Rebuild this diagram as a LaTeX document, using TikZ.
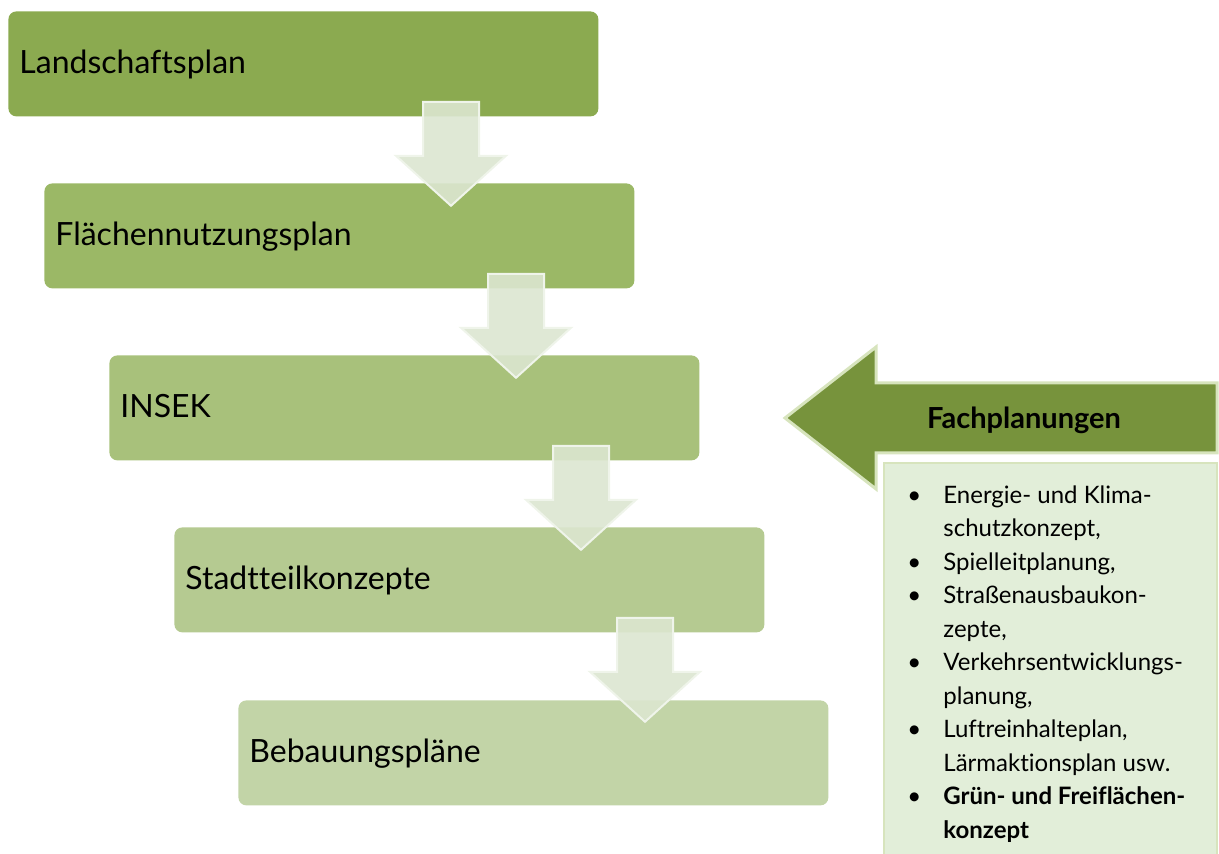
\documentclass[tikz,border=0pt]{standalone}
\usepackage{fontspec}
\setmainfont{Lato}[Ligatures={NoCommon}]
\usetikzlibrary{calc}
\definecolor{planA}{HTML}{8BAA50}
\definecolor{planB}{HTML}{9BB866}
\definecolor{planC}{HTML}{A8C17B}
\definecolor{planD}{HTML}{B5CA91}
\definecolor{planE}{HTML}{C2D4A7}
\definecolor{stepfill}{HTML}{DCE6D0}
\definecolor{fachfill}{HTML}{77933C}
\definecolor{fachline}{HTML}{D7E4BD}
\definecolor{listfill}{HTML}{E2EED9}
% arrow from box #1 down into box #2
\newcommand{\planArrow}[2]{%
  \draw[plan arrow] let \p1=(#1.south), \p2=(#2.north west) in
    (\x2+189.5pt,\y1+7.5pt) -- ++(56,0) -- ++(0,54)
    -- ++(27,0) -- ++(-55,50) -- ++(-55,-50) -- ++(27,0) -- cycle;}
\newcommand{\fpItem}[0]{\makebox[18pt][l]{\textbullet}}
\newcommand{\fpIndent}[0]{\hspace*{18pt}}

\begin{document}
\begin{tikzpicture}[x=0.5pt, y=-0.5pt]
  \tikzset{plan box/.style={fill=#1, rounded corners=4pt, anchor=north west,
      text width=284pt, inner xsep=5.5pt, minimum height=52.5pt, align=left,
      text height=12pt, text depth=2pt, font=\fontsize{16}{19}\selectfont},
    plan arrow/.style={fill=stepfill, fill opacity=0.9, draw=white!55!stepfill,
      line width=1pt, line join=miter}}
  \useasboundingbox (0,0) rectangle (1219,854);
  \node[plan box=planA] (lp) at (8,11) {Landschaftsplan};
  \node[plan box=planB] (fnp) at (44,183) {Flächennutzungsplan};
  \node[plan box=planC] (insek) at (109,355) {INSEK};
  \node[plan box=planD] (stk) at (174,527) {Stadtteilkonzepte};
  \node[plan box=planE] (bp) at (238,700) {Bebauungspläne};
  \planArrow{lp}{fnp}
  \planArrow{fnp}{insek}
  \planArrow{insek}{stk}
  \planArrow{stk}{bp}
  % Fachplanungen
  \draw[fill=fachfill, draw=fachline, line width=1.5pt]
    (785,418) -- (876,347) -- (876,383) -- (1217,383) -- (1217,453)
    -- (876,453) -- (876,489) -- cycle;
  \node[font=\bfseries\fontsize{14.5}{17}\selectfont] (fach) at (1024,420) {Fachplanungen};
  \draw[fill=listfill, draw=fachline, line width=1pt] (884,463) rectangle (1217,880);
  \node[anchor=north west, inner sep=0pt, align=left,
    font=\fontsize{12}{16.75}\selectfont] (liste) at (907,485)
    {\fpItem Energie- und Klima-\\
     \fpIndent schutzkonzept,\\
     \fpItem Spielleitplanung,\\
     \fpItem Straßenausbaukon-\\
     \fpIndent zepte,\\
     \fpItem Verkehrsentwicklungs-\\
     \fpIndent planung,\\
     \fpItem Luftreinhalteplan,\\
     \fpIndent Lärmaktionsplan usw.\\
     \fpItem\textbf{Grün- und Freiflächen-}\\
     \fpIndent\textbf{konzept}};
\end{tikzpicture}
\end{document}
